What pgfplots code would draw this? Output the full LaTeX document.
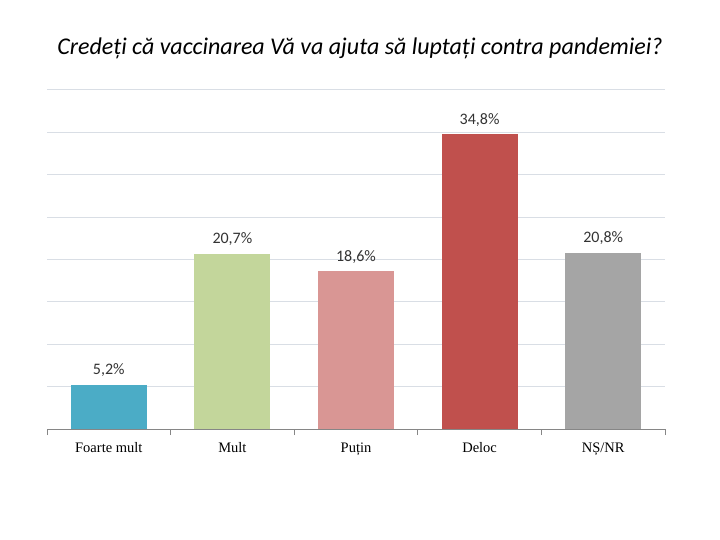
\documentclass[border=0pt]{standalone}
\usepackage{fontspec}
\setmainfont{Carlito}
\newfontfamily\seriffont{Liberation Serif}
\usepackage{pgfplots}
\pgfplotsset{compat=1.18}
\definecolor{cBlue}{HTML}{4BACC6}
\definecolor{cGreen}{HTML}{C3D69B}
\definecolor{cPink}{HTML}{D99694}
\definecolor{cRed}{HTML}{C0504D}
\definecolor{cGray}{HTML}{A5A5A5}
\definecolor{gridc}{RGB}{217,222,229}
\definecolor{axisc}{HTML}{868686}

\begin{document}
\begin{tikzpicture}
\useasboundingbox (-47bp,-111bp) rectangle (673bp,429bp);
\node[font=\fontsize{24bp}{28bp}\selectfont\itshape] at (313bp,381bp) {Credeți că vaccinarea Vă va ajuta să luptați contra pandemiei?};
\begin{axis}[
  at={(0,0)}, anchor=south west,
  scale only axis,
  width=618bp, height=339bp,
  ybar, bar width=0.615, bar shift=0pt,
  xmin=-0.5, xmax=4.5,
  ymin=0, ymax=40,
  axis lines*=left,
  x axis line style={draw=axisc, line width=1pt},
  y axis line style={draw=none},
  ytick={0,5,...,40}, yticklabels={},
  ytick style={draw=none},
  ymajorgrids,
  grid style={gridc, line width=1pt},
  xtick={0,1,2,3,4},
  xticklabels={Foarte mult, Mult, Puțin, Deloc, NȘ/NR},
  x tick label style={font=\seriffont\fontsize{14.5bp}{16bp}\selectfont, yshift=-6bp},
  major x tick style={draw=none},
  minor xtick={-0.5,0.5,...,4.5},
  minor x tick style={draw=axisc, line width=1pt},
  minor tick length=6bp,
  tick align=outside,
  point meta=explicit symbolic,
  nodes near coords={\pgfplotspointmeta},
  nodes near coords style={anchor=base, yshift=10bp, font=\fontsize{16bp}{18bp}\selectfont, text=black!80},
  clip=false,
]
\addplot[fill=cBlue, draw=none] coordinates {(0,5.2) [5,2\%]};
\addplot[fill=cGreen, draw=none] coordinates {(1,20.7) [20,7\%]};
\addplot[fill=cPink, draw=none] coordinates {(2,18.6) [18,6\%]};
\addplot[fill=cRed, draw=none] coordinates {(3,34.8) [34,8\%]};
\addplot[fill=cGray, draw=none] coordinates {(4,20.8) [20,8\%]};
\end{axis}
\end{tikzpicture}
\end{document}
